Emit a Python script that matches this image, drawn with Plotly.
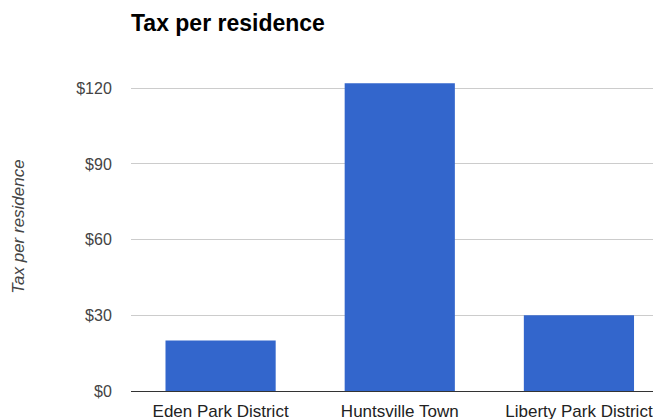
import plotly.graph_objects as go

categories = ["Eden Park District", "Huntsville Town", "Liberty Park District"]
tax_values = [20, 122, 30]
tick_vals = [0, 30, 60, 90, 120]
tick_text = ["$0", "$30", "$60", "$90", "$120"]

# page body has an 8px default margin; figure is sized/positioned to compensate
W, H = 653, 411
L, T, B = 123, 52, 28

fig = go.Figure()
fig.add_trace(go.Bar(x=categories, y=tax_values, marker=dict(color="#3366CC", line=dict(width=0))))

fig.update_layout(
    width=W, height=H,
    margin=dict(l=L, r=0, t=T, b=B, autoexpand=False),
    paper_bgcolor="white", plot_bgcolor="white",
    bargap=0.385,
    showlegend=False,
    font=dict(family="Liberation Sans, Arial, sans-serif"),
    title=dict(text="<b>Tax per residence</b>", x=0, xref="paper", xanchor="left",
               y=1 - 15 / H, yref="container", yanchor="middle",
               font=dict(size=23, color="#000")),
    xaxis=dict(range=[-0.5, 2.458], showgrid=False, ticks="outside", ticklen=5,
               tickcolor="rgba(0,0,0,0)", tickfont=dict(size=17, color="#222"),
               showline=False, zeroline=False, automargin=False),
    yaxis=dict(range=[0, 131.2], tickvals=tick_vals, ticktext=tick_text,
               showgrid=True, gridcolor="#cccccc", gridwidth=1,
               zeroline=True, zerolinecolor="#333333", zerolinewidth=1.3,
               ticks="outside", ticklen=15, tickcolor="rgba(0,0,0,0)",
               tickfont=dict(size=16, color="#444"), automargin=False),
    annotations=[dict(text="<i>Tax per residence</i>", xref="paper", yref="paper",
                      x=(11 - L) / (W - L), y=0.496, xanchor="center", yanchor="middle",
                      textangle=-90, showarrow=False,
                      font=dict(size=17, color="#444"))],
)

fig.write_html("out.html")
